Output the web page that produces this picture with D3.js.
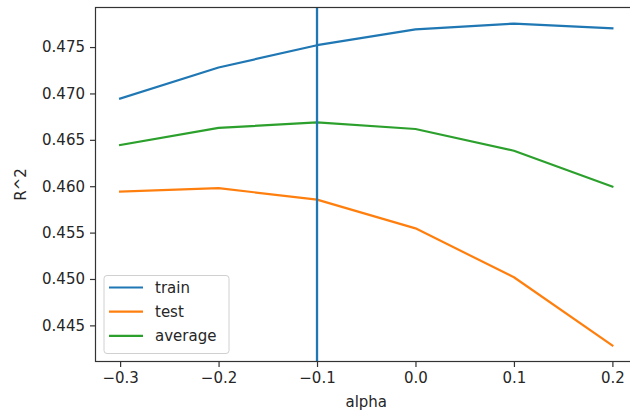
<!DOCTYPE html>
<html>
<head>
<meta charset="utf-8">
<script src="https://cdn.jsdelivr.net/npm/d3@7"></script>
<style>
  html, body { margin: 0; padding: 0; background: #fff; }
  svg { display: block; font-family: "DejaVu Sans", sans-serif; }
</style>
</head>
<body>
<svg id="chart" width="630" height="412"></svg>
<script>
// Regularisation strength tried
const alphas = [-0.3, -0.2, -0.1, 0.0, 0.1, 0.2];
// R^2 scores per alpha
const trainScores = [0.46945, 0.4728, 0.4752, 0.47691, 0.47753, 0.47702];
const testScores = [0.45942, 0.45979, 0.45856, 0.45546, 0.45019, 0.44284];
const averageScores = [0.46444, 0.46628, 0.46689, 0.46617, 0.46382, 0.45996];
// Selected alpha, marked with a vertical line
const chosenAlpha = -0.1;

const xTicks = [-0.3, -0.2, -0.1, 0.0, 0.1, 0.2];
const yTicks = [0.445, 0.450, 0.455, 0.460, 0.465, 0.470, 0.475];

const seriesNames = ["train", "test", "average"];
const seriesColors = ["#1f77b4", "#ff7f0e", "#2ca02c"];
const seriesValues = [trainScores, testScores, averageScores];

const svg = d3.select("#chart");
const axLeft = 95.5, axRight = 637, axTop = 7.5, axBottom = 361.5;
const fontSize = 15;
const textColor = "#262626";

// Matplotlib-style 5% margins around the data
const allY = [].concat(...seriesValues);
const yMin = d3.min(allY), yMax = d3.max(allY);
const yPad = (yMax - yMin) * 0.05;
const xMin = d3.min(alphas), xMax = d3.max(alphas);
const xPad = (xMax - xMin) * 0.05;

const x = d3.scaleLinear().domain([xMin - xPad, xMax + xPad]).range([axLeft, axRight]);
const y = d3.scaleLinear().domain([yMin - yPad, yMax + yPad]).range([axBottom, axTop]);

const line = d3.line().x(d => x(d[0])).y(d => y(d[1]));

const plot = svg.append("g");
seriesValues.forEach((vals, i) => {
  plot.append("path")
    .datum(alphas.map((a, j) => [a, vals[j]]))
    .attr("d", line)
    .attr("fill", "none")
    .attr("stroke", seriesColors[i])
    .attr("stroke-width", 2.2)
    .attr("stroke-linejoin", "round")
    .attr("stroke-linecap", "square");
});

// Vertical marker spanning the full axes height
plot.append("line")
  .attr("x1", x(chosenAlpha)).attr("x2", x(chosenAlpha))
  .attr("y1", axTop).attr("y2", axBottom)
  .attr("stroke", seriesColors[0])
  .attr("stroke-width", 2.3);

// Axes
const xAxis = d3.axisBottom(x).tickValues(xTicks).tickSize(5.5).tickPadding(5)
  .tickFormat(d => d3.format(".1f")(d).replace("-", "\u2212"));
const yAxis = d3.axisLeft(y).tickValues(yTicks).tickSize(5.5).tickPadding(5)
  .tickFormat(d3.format(".3f"));

const gx = svg.append("g").attr("transform", `translate(0,${axBottom})`).call(xAxis);
const gy = svg.append("g").attr("transform", `translate(${axLeft},0)`).call(yAxis);
[gx, gy].forEach(g => {
  g.select(".domain").remove();
  g.selectAll(".tick line").attr("stroke", "#333").attr("stroke-width", 1.2);
  g.selectAll(".tick text").attr("fill", textColor).style("font-size", fontSize + "px")
    .style("font-family", "DejaVu Sans, sans-serif");
});

// Spines
svg.append("rect")
  .attr("x", axLeft).attr("y", axTop)
  .attr("width", axRight - axLeft).attr("height", axBottom - axTop)
  .attr("fill", "none").attr("stroke", "#333").attr("stroke-width", 1.2);

// Axis labels
svg.append("text")
  .attr("x", (axLeft + axRight) / 2).attr("y", 407)
  .attr("text-anchor", "middle").attr("fill", textColor)
  .style("font-size", fontSize + "px")
  .text("alpha");
svg.append("text")
  .attr("transform", `translate(26,${(axTop + axBottom) / 2}) rotate(-90)`)
  .attr("text-anchor", "middle").attr("fill", textColor)
  .style("font-size", fontSize + "px")
  .text("R^2");

// Legend
const legend = svg.append("g");
legend.append("rect")
  .attr("x", 104).attr("y", 275.5).attr("width", 125).attr("height", 78)
  .attr("rx", 3).attr("ry", 3)
  .attr("fill", "#fff").attr("fill-opacity", 0.8)
  .attr("stroke", "#d0d0d0").attr("stroke-width", 1);
seriesNames.forEach((name, i) => {
  const yy = 287.5 + i * 24.2;
  legend.append("line")
    .attr("x1", 109).attr("x2", 143).attr("y1", yy).attr("y2", yy)
    .attr("stroke", seriesColors[i]).attr("stroke-width", 2.2);
  legend.append("text")
    .attr("x", 155).attr("y", yy + 5.3)
    .attr("fill", textColor).style("font-size", fontSize + "px")
    .text(name);
});
</script>
</body>
</html>
